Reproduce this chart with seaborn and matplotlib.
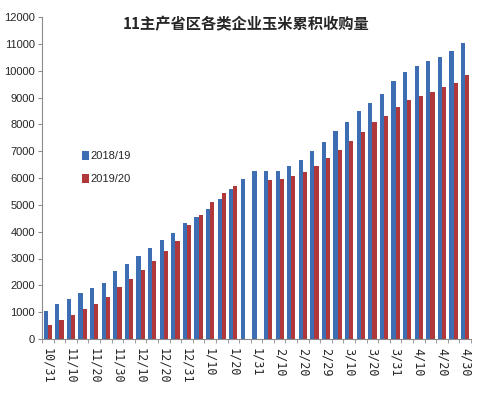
import numpy as np
import pandas as pd
import matplotlib
matplotlib.use("Agg")
from matplotlib import pyplot as plt
import seaborn as sns

# dates on the x axis (every 5 days, Oct 31 to Apr 30)
dates = ['10/31', '11/5', '11/10', '11/15', '11/20', '11/25', '11/30',
         '12/5', '12/10', '12/15', '12/20', '12/25', '12/31',
         '1/5', '1/10', '1/15', '1/20', '1/25', '1/31',
         '2/5', '2/10', '2/15', '2/20', '2/25', '2/29',
         '3/5', '3/10', '3/15', '3/20', '3/25', '3/31',
         '4/5', '4/10', '4/15', '4/20', '4/25', '4/30']

# cumulative purchases
s1819 = [1030, 1300, 1500, 1700, 1900, 2100, 2520, 2790, 3110, 3390, 3680, 3960,
         4330, 4540, 4860, 5230, 5600, 5960, 6270, 6270, 6270, 6450, 6680, 7010,
         7340, 7750, 8080, 8480, 8800, 9140, 9600, 9960, 10160, 10360, 10520,
         10720, 11020]
s1920 = [540, 700, 910, 1100, 1300, 1560, 1920, 2240, 2570, 2910, 3290, 3650,
         4230, 4630, 5120, 5440, 5720, np.nan, np.nan, 5920, 5960, 6090, 6210,
         6450, 6740, 7060, 7390, 7710, 8080, 8320, 8640, 8900, 9060, 9210, 9380,
         9540, 9840]
seasons = ['2018/19', '2019/20']
title = '11主产省区各类企业玉米累积收购量'

df = pd.DataFrame({'date': dates * 2,
                   'season': [seasons[0]] * len(dates) + [seasons[1]] * len(dates),
                   'value': s1819 + s1920}).dropna()

sns.set_style('white')
plt.rcParams['font.family'] = ['Noto Sans CJK SC', 'DejaVu Sans']

fig = plt.figure(figsize=(4.92, 3.93), dpi=100)
ax = fig.add_axes([42 / 492, 1 - 339 / 393, 429 / 492, 322 / 393])

sns.barplot(data=df, x='date', y='value', hue='season', order=dates,
            hue_order=seasons, palette=['#3D6DB3', '#B0373A'], width=0.72,
            ax=ax, saturation=1, errorbar=None, linewidth=0)

ax.set_xlim(-0.5, len(dates) - 0.5)
ax.set_ylim(0, 12000)
ax.set_yticks(range(0, 12001, 1000))
ax.set_xlabel('')
ax.set_ylabel('')

for s in ['top', 'right']:
    ax.spines[s].set_visible(False)
for s in ['left', 'bottom']:
    ax.spines[s].set_color('#8c8c8c')
    ax.spines[s].set_linewidth(0.8)

ax.tick_params(axis='y', left=True, length=3, color='#8c8c8c', labelsize=8, pad=2)
for lab in ax.get_yticklabels():
    lab.set_family('Liberation Sans')

ax.set_xticks(range(len(dates)))
ax.set_xticklabels([d if i % 2 == 0 else '' for i, d in enumerate(dates)],
                   rotation=270, family='DejaVu Sans Mono', fontsize=8.5)
ax.tick_params(axis='x', bottom=False, pad=3)
ax.set_xticks(np.arange(-0.5, len(dates), 1), minor=True)
ax.tick_params(axis='x', which='minor', bottom=True, length=3, color='#8c8c8c')

ax.legend(loc='upper left', bbox_to_anchor=(0.07, 0.615), frameon=False,
          handlelength=0.6, handleheight=0.9, handletextpad=0.2,
          labelspacing=1.1, prop={'family': 'Liberation Sans', 'size': 8})

fig.text(0.5, 1 - 24 / 393, title, ha='center', va='center', fontsize=11,
         fontweight='bold')

plt.savefig('out.png', dpi=100)
